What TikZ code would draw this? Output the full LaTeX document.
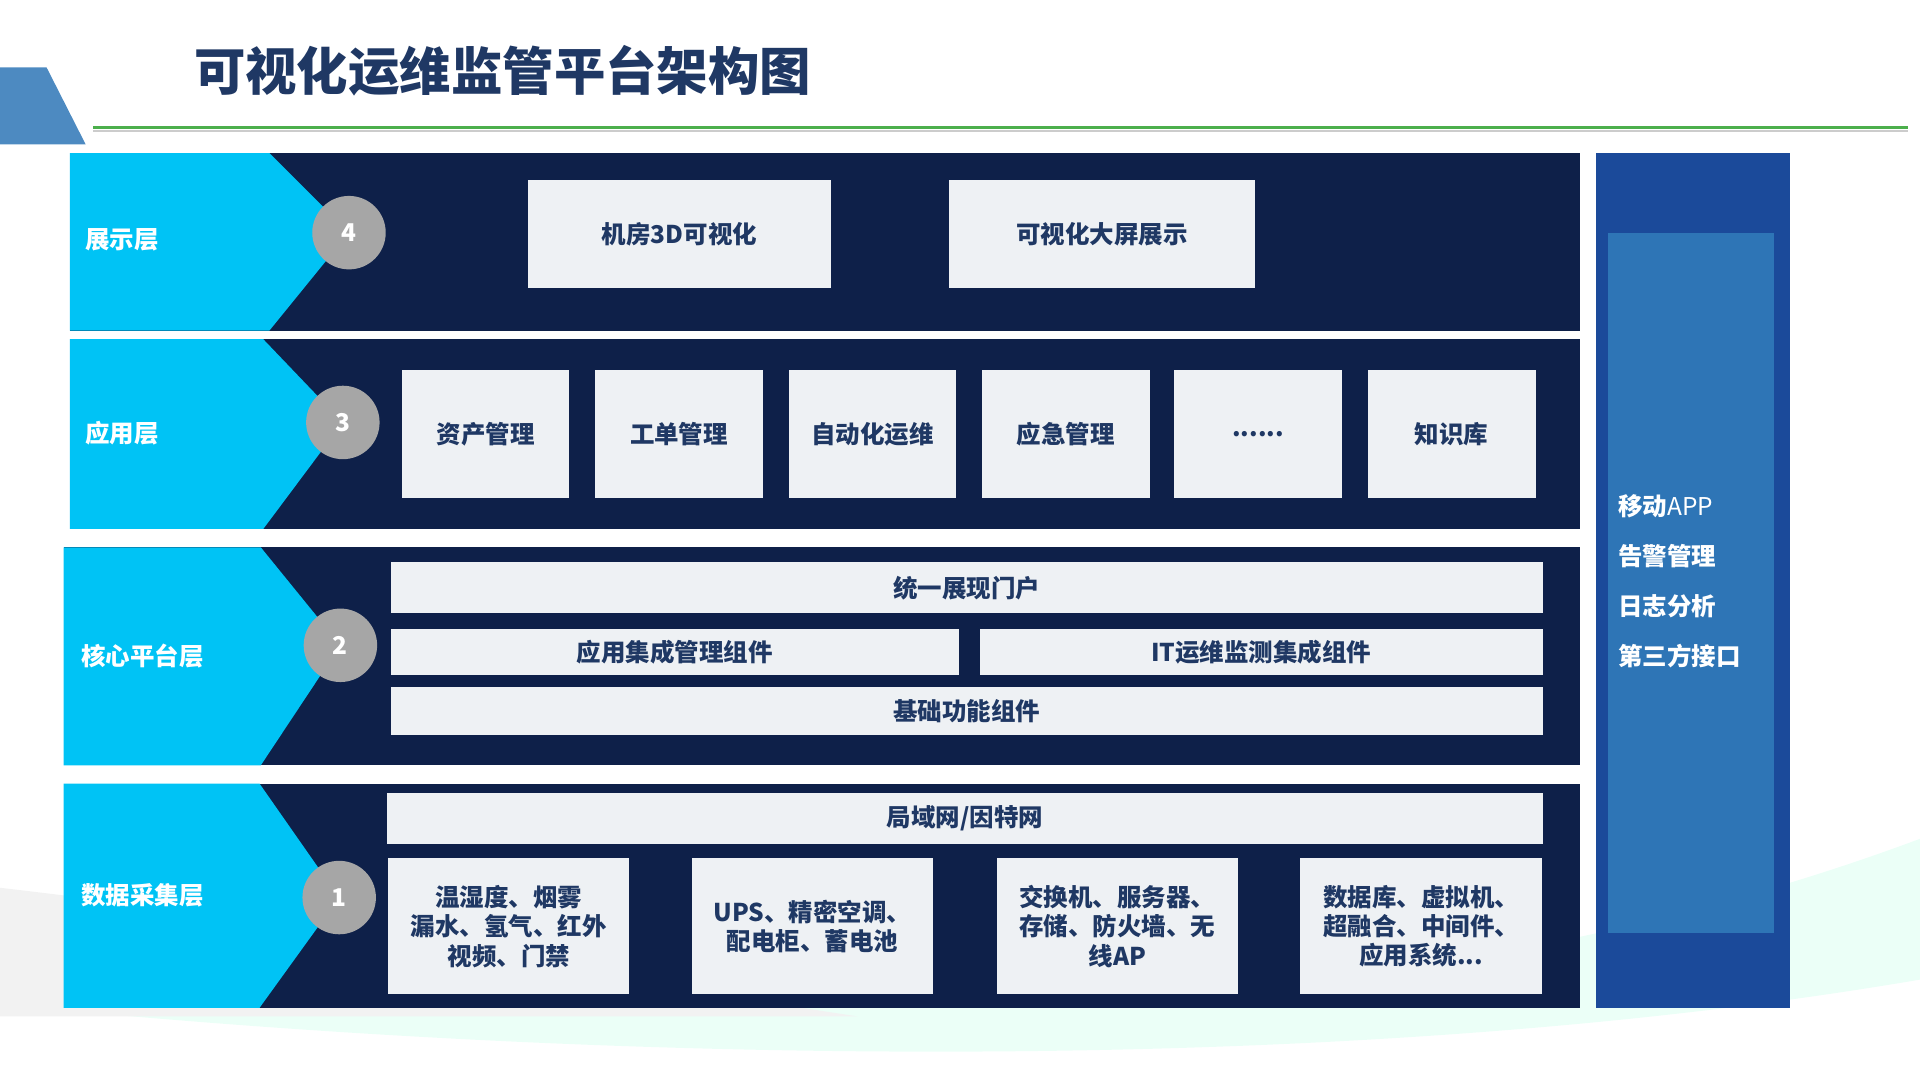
\documentclass[tikz,border=0pt]{standalone}
\usepackage{fontspec}
\newfontfamily\cjk{Noto Sans CJK SC}
\usetikzlibrary{positioning}
\definecolor{navy}{HTML}{0E2049}
\definecolor{cyanL}{HTML}{00C3F5}
\definecolor{boxF}{HTML}{EEF1F4}
\definecolor{boxT}{HTML}{1F3864}
\definecolor{sideA}{HTML}{1B4A9A}
\definecolor{sideB}{HTML}{2E75B6}
\tikzset{
  box/.style={draw=none, fill=boxF, text=boxT, font=\cjk\bfseries\fontsize{20}{24}\selectfont, inner sep=0pt, align=center},
  lbl/.style={text=white, font=\cjk\bfseries\fontsize{20}{24}\selectfont, anchor=west},
  num/.style={circle, fill=gray!70, text=white, minimum size=60pt, inner sep=0pt, font=\cjk\bfseries\fontsize{20}{24}\selectfont}
}
\begin{document}
\begin{tikzpicture}[x=1pt, y=-1pt]
\useasboundingbox (0,0) rectangle (1568,882);

% background swooshes
\fill[green!40!cyan!8] (0,760) .. controls (500,850) and (1100,860) .. (1568,685) -- (1568,800) .. controls (1100,880) and (500,870) .. (0,820) -- cycle;
\fill[gray!10] (0,725) .. controls (300,760) and (500,800) .. (700,830) -- (0,830) -- cycle;

% header
\fill[sideB!85] (0,55) -- (38,55) -- (70,118) -- (0,118) -- cycle;
\draw[gray!40, line width=2pt] (76,107) -- (1558,107);
\draw[green!55!black!70, line width=2.5pt] (76,104) -- (1558,104);
\node[anchor=west, text=boxT, font=\cjk\bfseries\fontsize{42}{48}\selectfont] (title) at (155,58) {可视化运维监管平台架构图};

% layers: top, bottom, tip y, left x, tip x
\foreach \yt/\yb/\ym/\xl/\xt [count=\i] in {125/270/190/57/285, 277/432/345/57/280, 447/625/527/52/278, 640/823/733/52/277}{
  \fill[navy] (\xl,\yt) rectangle (1290,\yb);
  \fill[cyanL] (\xl,\yt) -- (\xt-65,\yt) -- (\xt,\ym) -- (\xt-65,\yb) -- (\xl,\yb) -- cycle;
}
\node[num] (n4) at (285,190) {4};
\node[num] (n3) at (280,345) {3};
\node[num] (n2) at (278,527) {2};
\node[num] (n1) at (277,733) {1};
\node[lbl] (l4) at (66,196) {展示层};
\node[lbl] (l3) at (66,354) {应用层};
\node[lbl] (l2) at (63,536) {核心平台层};
\node[lbl] (l1) at (63,731) {数据采集层};

% side column
\fill[sideA] (1303,125) rectangle (1462,823);
\fill[sideB] (1313,190) rectangle (1449,762);
\node[lbl, align=left, anchor=north west, font=\cjk\bfseries\fontsize{20}{41}\selectfont] (side) at (1318,400)
  {移动{\mdseries APP}\\告警管理\\日志分析\\第三方接口};

% row 4
\node[box, minimum width=248pt, minimum height=88pt] (b3d) at (555,191) {机房3D可视化};
\node[box, minimum width=250pt, minimum height=88pt] (bscr) at (900,191) {可视化大屏展示};

% row 3
\foreach \x/\t [count=\j] in {328/资产管理, 486/工单管理, 644/自动化运维, 802/应急管理, 959/{......}, 1117/知识库}
  \node[box, minimum width=137pt, minimum height=105pt] (app\j) at (\x+68.5,354.5) {\t};

% row 2
\node[box, minimum width=941pt, minimum height=42pt] (portal) at (789.5,480) {统一展现门户};
\node[box, minimum width=464pt, minimum height=37pt] (appint) at (551,532.5) {应用集成管理组件};
\node[box, minimum width=460pt, minimum height=37pt] (itint) at (1030,532.5) {IT运维监测集成组件};
\node[box, minimum width=941pt, minimum height=39pt] (base) at (789.5,580.5) {基础功能组件};

% row 1
\node[box, minimum width=944pt, minimum height=41pt] (net) at (788,668.5) {局域网/因特网};
\node[box, minimum width=197pt, minimum height=111pt] (d1) at (415.5,756.5) {温湿度、烟雾\\漏水、氢气、红外\\视频、门禁};
\node[box, minimum width=197pt, minimum height=111pt] (d2) at (663.5,756.5) {UPS、精密空调、\\配电柜、蓄电池};
\node[box, minimum width=197pt, minimum height=111pt] (d3) at (912.5,756.5) {交换机、服务器、\\存储、防火墙、无\\线AP};
\node[box, minimum width=197pt, minimum height=111pt] (d4) at (1160.5,756.5) {数据库、虚拟机、\\超融合、中间件、\\应用系统...};
\end{tikzpicture}
\end{document}
